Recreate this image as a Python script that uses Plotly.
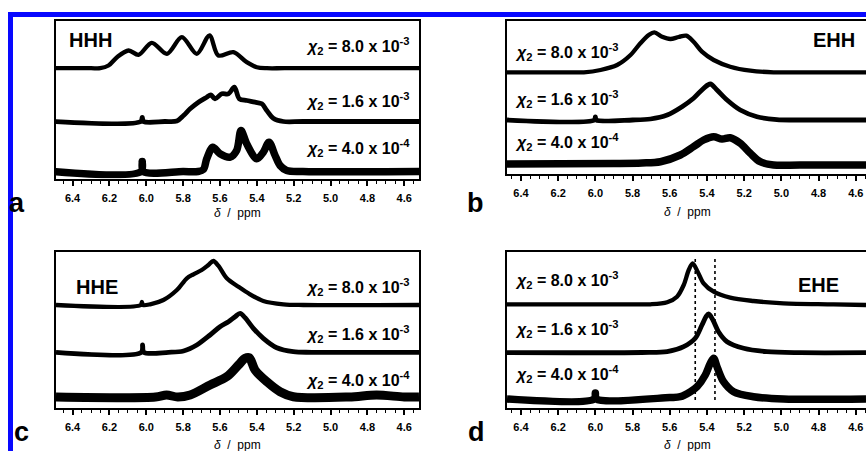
import plotly.graph_objects as go

W, H = 866, 451

# ---------------- data (ppm, stacked intensity) ----------------
tick_vals = [6.4, 6.2, 6.0, 5.8, 5.6, 5.4, 5.2, 5.0, 4.8, 4.6]
tick_text = ["6.4", "6.2", "6.0", "5.8", "5.6", "5.4", "5.2", "5.0", "4.8", "4.6"]
conc_labels = ["8.0 x 10<sup>-3</sup>", "1.6 x 10<sup>-3</sup>", "4.0 x 10<sup>-4</sup>"]
panel_names = ["HHH", "EHH", "HHE", "EHE"]
panel_letters = ["a", "b", "c", "d"]

# Panel a (HHH)
a_top_x = [6.50, 6.30, 6.25, 6.205, 6.159, 6.096, 6.042, 5.970, 5.888, 5.807, 5.726, 5.657, 5.609, 5.527, 5.455, 5.400, 5.346, 5.25, 4.50]
a_top_y = [110.3, 110.3, 110.3, 113, 121.3, 128, 123.7, 135.7, 124.7, 141.3, 124.7, 143, 123, 126.3, 116.3, 111.3, 110.3, 110.3, 110.3]
a_mid_x = [6.50, 6.03, 6.022, 6.015, 5.90, 5.834, 5.798, 5.762, 5.717, 5.672, 5.650, 5.627, 5.590, 5.554, 5.522, 5.495, 5.455, 5.410, 5.373, 5.346, 5.311, 5.256, 5.15, 4.50]
a_mid_y = [57, 57, 61, 57, 57, 57.5, 63, 69.7, 76.3, 81.3, 83.7, 79.7, 84.7, 84.7, 91.3, 79.7, 78, 76.3, 74.7, 68, 60.3, 57, 57, 57]
a_bot_x = [6.50, 6.028, 6.022, 6.016, 5.80, 5.72, 5.690, 5.672, 5.639, 5.600, 5.545, 5.509, 5.486, 5.455, 5.400, 5.365, 5.334, 5.301, 5.274, 5.238, 5.15, 4.50]
a_bot_y = [7, 7, 17, 7, 7, 7, 9, 19.7, 31.3, 24.7, 21.3, 28.3, 48, 34.7, 19.7, 26.3, 36.3, 23, 13, 8, 7, 7]

# Panel b (EHH)
b_top_x = [6.475, 6.15, 6.062, 5.972, 5.883, 5.811, 5.758, 5.713, 5.683, 5.641, 5.597, 5.552, 5.511, 5.472, 5.427, 5.364, 5.275, 5.167, 5.042, 4.90, 4.545]
b_top_y = [101.7, 101.7, 101.7, 104, 109, 119, 130.7, 139, 141.7, 137.3, 135, 137, 138.3, 132.3, 122.3, 114, 107.3, 103.3, 101.7, 101.7, 101.7]
b_mid_x = [6.475, 6.005, 6.0, 5.995, 5.80, 5.704, 5.614, 5.534, 5.472, 5.418, 5.382, 5.346, 5.292, 5.221, 5.131, 5.024, 4.90, 4.545]
b_mid_y = [54, 54, 57, 54, 54, 55, 59, 67.3, 75.7, 85.7, 90, 84, 74, 64, 57.3, 54.3, 54, 54]
b_bot_x = [6.475, 5.90, 5.75, 5.650, 5.543, 5.472, 5.418, 5.364, 5.319, 5.275, 5.221, 5.167, 5.114, 5.042, 4.90, 4.545]
b_bot_y = [10, 10.5, 11, 12.3, 19, 27.3, 34, 37.3, 35, 36.3, 30.7, 20.7, 12.3, 9, 9, 9]

# Panel c (HHE)
c_top_x = [6.49, 6.03, 6.024, 6.018, 5.979, 5.907, 5.834, 5.780, 5.744, 5.699, 5.663, 5.636, 5.609, 5.563, 5.500, 5.437, 5.365, 5.256, 5.148, 4.52]
c_top_y = [103, 103, 106, 103, 103.7, 108, 118, 129.7, 133.7, 138, 143, 147, 142.3, 129.7, 121.3, 113.7, 107, 103.7, 103, 103]
c_mid_x = [6.49, 6.027, 6.02, 6.013, 5.88, 5.798, 5.726, 5.654, 5.600, 5.554, 5.518, 5.491, 5.464, 5.419, 5.365, 5.292, 5.202, 5.10, 4.52]
c_mid_y = [55.7, 55.7, 63, 55.7, 55.7, 57, 63, 73, 81.3, 86.3, 91.3, 94.7, 90.3, 79.7, 69.7, 60.3, 56.3, 55.7, 55.7]
c_bot_x = [6.49, 5.95, 5.89, 5.83, 5.762, 5.654, 5.563, 5.500, 5.464, 5.441, 5.410, 5.346, 5.274, 5.202, 4.90, 4.75, 4.60, 4.52]
c_bot_y = [11, 11, 13, 11, 13, 23, 31.3, 43, 49.7, 50.3, 38, 26.3, 16.3, 11.3, 11, 13, 11, 11]

# Panel d (EHE)
d_top_x = [6.475, 5.80, 5.704, 5.614, 5.561, 5.525, 5.498, 5.477, 5.450, 5.418, 5.364, 5.275, 5.150, 4.989, 4.720, 4.545]
d_top_y = [103.7, 103.7, 103.7, 105.7, 111.3, 123, 138, 144.7, 136.3, 124.7, 116.3, 110.3, 107, 104.7, 103.7, 103]
d_mid_x = [6.475, 5.75, 5.614, 5.525, 5.463, 5.427, 5.405, 5.391, 5.368, 5.338, 5.292, 5.203, 5.078, 4.899, 4.545]
d_mid_y = [55.3, 55.5, 56.3, 61.3, 69.7, 83, 91.3, 94, 88, 76.3, 66.3, 59.7, 56.3, 55.3, 55.3]
d_bot_x = [6.475, 6.006, 6.0, 5.994, 5.60, 5.543, 5.489, 5.453, 5.409, 5.382, 5.364, 5.343, 5.311, 5.257, 5.150, 4.989, 4.545]
d_bot_y = [9, 9, 15, 9, 10.5, 11.3, 16.3, 21.3, 33, 44.7, 49.7, 39.7, 26.3, 16.3, 11.3, 9, 9]
d_ref_lines = [5.463, 5.357]
d_ref_span = [8, 150]

spectra = {
    "a": [(a_top_x, a_top_y), (a_mid_x, a_mid_y), (a_bot_x, a_bot_y)],
    "b": [(b_top_x, b_top_y), (b_mid_x, b_mid_y), (b_bot_x, b_bot_y)],
    "c": [(c_top_x, c_top_y), (c_mid_x, c_mid_y), (c_bot_x, c_bot_y)],
    "d": [(d_top_x, d_top_y), (d_mid_x, d_mid_y), (d_bot_x, d_bot_y)],
}

# ---------------- layout geometry (pixels) ----------------
panels = {
    "a": dict(l=56, r=419, t=21, b=178.5, xr=[6.49, 4.52], ytop=157.5, axis="1"),
    "b": dict(l=507, r=866, t=20.5, b=174, xr=[6.475, 4.545], ytop=153.5, axis="2"),
    "c": dict(l=56, r=419, t=252, b=408, xr=[6.49, 4.52], ytop=156, axis="3"),
    "d": dict(l=507, r=866, t=252, b=408, xr=[6.475, 4.545], ytop=156, axis="4"),
}
widths = [4.3, 4.8, 7.5]
widths_c = [4.3, 4.8, 9]


def px(x):
    return x / W


def py(y):
    return 1 - y / H


fig = go.Figure()
FONT = "Liberation Sans, Arial, sans-serif"

for key, p in panels.items():
    n = p["axis"]
    xa = "x" if n == "1" else "x" + n
    ya = "y" if n == "1" else "y" + n
    ws = widths_c if key == "c" else widths
    for (xs, ys), w in zip(spectra[key], ws):
        fig.add_trace(go.Scatter(x=xs, y=ys, mode="lines", xaxis=xa, yaxis=ya,
                                 line=dict(color="black", width=w, shape="spline", smoothing=0.9),
                                 showlegend=False, hoverinfo="skip"))
    xname = "xaxis" if n == "1" else "xaxis" + n
    yname = "yaxis" if n == "1" else "yaxis" + n
    fig.layout[xname] = dict(
        domain=[px(p["l"]), px(p["r"])], range=p["xr"], anchor=ya,
        tickmode="array", tickvals=tick_vals, ticktext=tick_text,
        ticks="outside", ticklen=5, tickwidth=1.5, tickcolor="black",
        minor=dict(dtick=0.05, tick0=4.6, ticks="outside", ticklen=3, tickwidth=1.2, tickcolor="black"),
        showline=True, linecolor="black", linewidth=2, mirror=True,
        showgrid=False, zeroline=False,
        tickfont=dict(family=FONT, size=11, color="black", weight="bold"),
        ticklabelstandoff=3,
    )
    fig.layout[yname] = dict(
        domain=[py(p["b"]), py(p["t"])], range=[0, p["ytop"]], anchor=xa,
        showline=True, linecolor="black", linewidth=1.8,
        mirror=(key in ("a", "c")),
        showticklabels=False, ticks="", showgrid=False, zeroline=False,
    )

# reference dotted lines in panel d
for xv in d_ref_lines:
    fig.add_trace(go.Scatter(x=[xv, xv], y=d_ref_span, mode="lines", xaxis="x4", yaxis="y4",
                             line=dict(color="black", width=1.6, dash="dot"),
                             showlegend=False, hoverinfo="skip"))

ann = []
# axis titles
for cx, cy in [(237, 213), (687, 212), (237, 445), (687, 445)]:
    ann.append(dict(x=px(cx), y=py(cy), xref="paper", yref="paper", showarrow=False,
                    text="<i>δ</i>  /  ppm", font=dict(family=FONT, size=12, color="black"),
                    xanchor="center", yanchor="middle"))
# panel letters
for (lx, ly), t in zip([(17, 203), (475, 203), (21, 432), (476, 432)], panel_letters):
    ann.append(dict(x=px(lx), y=py(ly), xref="paper", yref="paper", showarrow=False,
                    text=t, font=dict(family=FONT, size=27, color="black", weight="bold"),
                    xanchor="center", yanchor="middle"))
# panel names
for (nx, ny), t in zip([(90, 40), (834, 40), (97, 287), (818, 285)], panel_names):
    ann.append(dict(x=px(nx), y=py(ny), xref="paper", yref="paper", showarrow=False,
                    text=t, font=dict(family=FONT, size=20, color="black", weight="bold"),
                    xanchor="center", yanchor="middle"))
# concentration labels
label_pos = {
    "a": (412, "right", [46, 101, 148]),
    "b": (513, "left", [52, 99, 142]),
    "c": (412, "right", [287, 334, 380]),
    "d": (513, "left", [280, 329, 374]),
}
for key, (lx, anc, ys) in label_pos.items():
    for yv, c in zip(ys, conc_labels):
        ann.append(dict(x=px(lx), y=py(yv), xref="paper", yref="paper", showarrow=False,
                        text="<i>χ</i><sub>2</sub> = " + c,
                        font=dict(family=FONT, size=16, color="black", weight="bold"),
                        xanchor=anc, yanchor="middle"))

shapes = [
    dict(type="rect", xref="paper", yref="paper", x0=px(8), x1=px(13), y0=0, y1=py(12),
         fillcolor="#0808ff", line=dict(width=0), layer="above"),
    dict(type="rect", xref="paper", yref="paper", x0=px(8), x1=1, y0=py(17), y1=py(12),
         fillcolor="#0808ff", line=dict(width=0), layer="above"),
]

fig.update_layout(
    width=W, height=H, margin=dict(l=0, r=0, t=0, b=0),
    paper_bgcolor="white", plot_bgcolor="white",
    annotations=ann, shapes=shapes, showlegend=False,
    font=dict(family=FONT, color="black"),
)

fig.write_html("out.html")
